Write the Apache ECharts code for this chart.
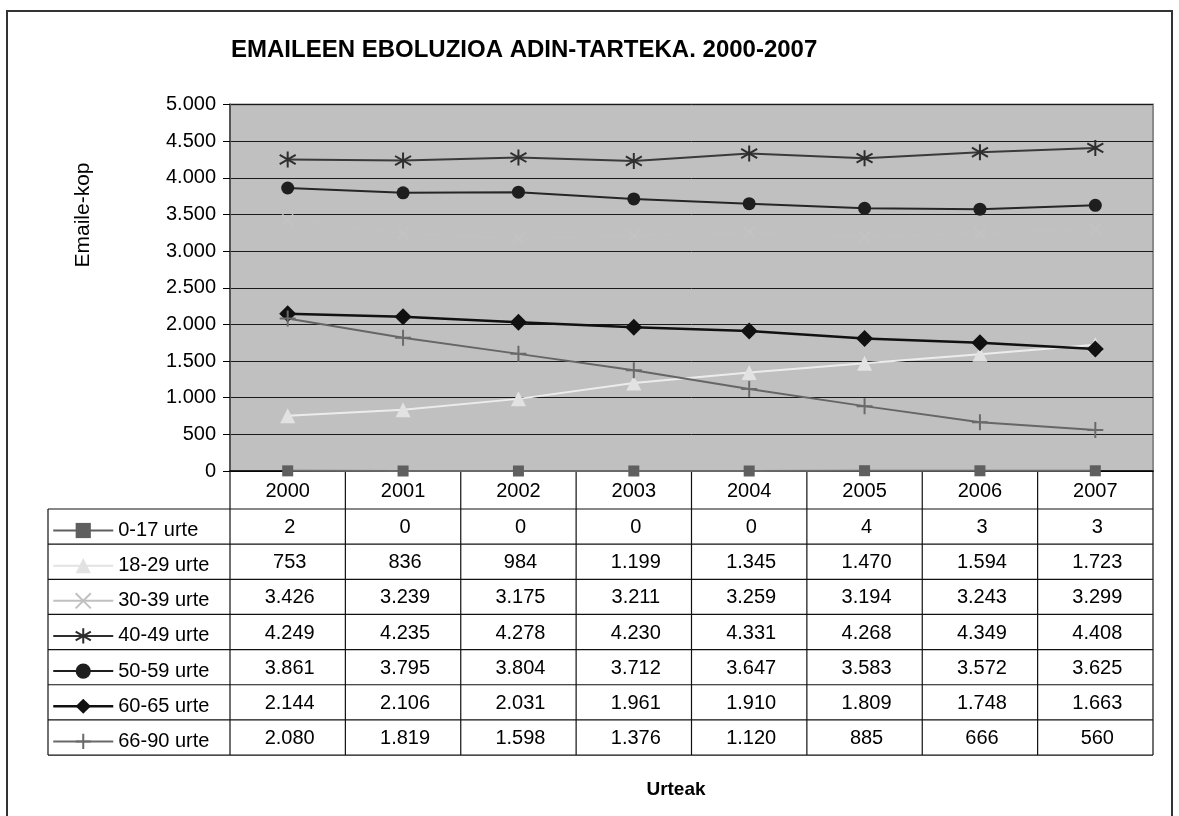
<!DOCTYPE html>
<html><head><meta charset="utf-8">
<script src="https://cdn.jsdelivr.net/npm/echarts@6/dist/echarts.min.js"></script>
<style>html,body{margin:0;padding:0;background:#fff}#c{width:1179px;height:816px}</style>
</head><body><div id="c"></div>
<script>
// ---- data ----
const years = ['2000','2001','2002','2003','2004','2005','2006','2007'];
const seriesNames = ['0-17 urte','18-29 urte','30-39 urte','40-49 urte','50-59 urte','60-65 urte','66-90 urte'];
const v0_17  = [2, 0, 0, 0, 0, 4, 3, 3];
const v18_29 = [753, 836, 984, 1199, 1345, 1470, 1594, 1723];
const v30_39 = [3426, 3239, 3175, 3211, 3259, 3194, 3243, 3299];
const v40_49 = [4249, 4235, 4278, 4230, 4331, 4268, 4349, 4408];
const v50_59 = [3861, 3795, 3804, 3712, 3647, 3583, 3572, 3625];
const v60_65 = [2144, 2106, 2031, 1961, 1910, 1809, 1748, 1663];
const v66_90 = [2080, 1819, 1598, 1376, 1120, 885, 666, 560];
const allValues = [v0_17, v18_29, v30_39, v40_49, v50_59, v60_65, v66_90];
const titleText = 'EMAILEEN EBOLUZIOA ADIN-TARTEKA. 2000-2007';
const yTitle = 'Emaile-kop';
const xTitle = 'Urteak';

// ---- styles ----
const FONT = '"Liberation Sans", Arial, Helvetica, sans-serif';
const fmt = n => String(n).replace(/\B(?=(\d{3})+(?!\d))/g, '.');
const ASTER = 'path://M7,0L7,14M0,3L14,11M0,11L14,3';
const PLUS = 'path://M7,0L7,14M0,7L14,7';
const CROSS = 'path://M0,0L10,10M0,10L10,0';
const sty = [
  {symbol:'rect', size:11, color:'#5f5f5f', line:'#6a6a6a', lw:2, stroke:false},
  {symbol:'triangle', size:15, color:'#e2e2e2', line:'#ececec', lw:2, stroke:false},
  {symbol:CROSS, size:11, color:'#c3c3c3', line:'#c1c1c1', lw:2, stroke:true},
  {symbol:ASTER, size:16, color:'#2e2e2e', line:'#3a3a3a', lw:2, stroke:true},
  {symbol:'circle', size:13, color:'#1e1e1e', line:'#262626', lw:2, stroke:false},
  {symbol:'diamond', size:17, color:'#111', line:'#111', lw:2.5, stroke:false},
  {symbol:PLUS, size:16, color:'#6a6a6a', line:'#666', lw:2, stroke:true}
];
const legendColor = ['#5f5f5f', '#e2e2e2', '#c0c0c0', '#2e2e2e', '#1e1e1e', '#111', '#6a6a6a'];

const chart = echarts.init(document.getElementById('c'), null, {renderer:'canvas'});
const GRID = {left:230, top:104.5, right:26, bottom:345};

const series = seriesNames.map((name, i) => ({
  name, type:'line', data: allValues[i],
  symbol: sty[i].symbol, symbolSize: sty[i].size,
  showAllSymbol: true,
  itemStyle: {color: sty[i].color, borderColor: sty[i].color, borderWidth: sty[i].stroke ? 2 : 0},
  lineStyle: {color: sty[i].line, width: sty[i].lw},
  emphasis: {disabled: true},
  z: 3
}));

const legendData = seriesNames.map((name, i) => ({
  name,
  itemStyle: {color: legendColor[i], borderColor: legendColor[i], borderWidth: sty[i].stroke ? 2 : 0},
  lineStyle: {color: legendColor[i], width: sty[i].lw}
}));

chart.setOption({
  animation: false,
  backgroundColor: '#fff',
  grid: Object.assign({show:true, backgroundColor:'#c0c0c0', borderColor:'#8a8a8a', borderWidth:2}, GRID),
  xAxis: {
    type:'category', data: years, boundaryGap: true,
    axisLine: {lineStyle:{color:'#000', width:1.5}},
    axisTick: {show:false},
    axisLabel: {show:false},
    splitLine: {show:false}
  },
  yAxis: {
    type:'value', min:0, max:5000, interval:500,
    axisLine: {show:true, lineStyle:{color:'#555', width:2}},
    axisTick: {show:true, length:7, lineStyle:{color:'#000', width:1}},
    axisLabel: {formatter: v => fmt(v), fontSize:20, color:'#000', fontFamily:FONT, margin:14},
    splitLine: {lineStyle:{color:'#1a1a1a', width:1}}
  },
  legend: {
    orient:'vertical', left:52, top:519.5, padding:[0,0,0,0],
    itemWidth:60, itemHeight:19, itemGap:13.15,
    selectedMode:false,
    textStyle:{fontSize:20, lineHeight:22, color:'#000', fontFamily:FONT},
    data: legendData
  },
  series
});

// ---- table + texts ----
const c0 = chart.convertToPixel({xAxisIndex:0}, 0);
const c1 = chart.convertToPixel({xAxisIndex:0}, 1);
const band = c1 - c0;
const y0 = chart.convertToPixel({yAxisIndex:0}, 0);
const bounds = years.map((_, i) => chart.convertToPixel({xAxisIndex:0}, i) - band/2);
bounds.push(bounds[bounds.length-1] + band);
const tableLeft = 48;
const rowH0 = 38, rowH = 35.15;
const rowTop = y0 + rowH0;
const tableBottom = rowTop + rowH * seriesNames.length;
const LC = '#111';
const g = [];
bounds.forEach(x => g.push({type:'line', shape:{x1:x, y1:y0, x2:x, y2:tableBottom}, style:{stroke:LC, lineWidth:1.2}, silent:true}));
g.push({type:'line', shape:{x1:tableLeft, y1:rowTop, x2:tableLeft, y2:tableBottom}, style:{stroke:LC, lineWidth:1.2}, silent:true});
for (let r = 0; r <= seriesNames.length; r++) {
  const y = rowTop + r * rowH;
  g.push({type:'line', shape:{x1:tableLeft, y1:y, x2:bounds[bounds.length-1], y2:y}, style:{stroke:LC, lineWidth:1.2}, silent:true});
}
years.forEach((yr, i) => g.push({type:'text', x: bounds[i] + band/2, y: y0 + rowH0/2 + 1,
  style:{text: yr, fontSize:20, fontFamily:FONT, fill:'#000', align:'center', verticalAlign:'middle'}, silent:true}));
allValues.forEach((arr, r) => arr.forEach((v, i) => g.push({type:'text', x: bounds[i] + band/2 + 2, y: rowTop + r*rowH + rowH/2 + 1,
  style:{text: fmt(v), fontSize:20, fontFamily:FONT, fill:'#000', align:'center', verticalAlign:'middle'}, silent:true})));
g.push({type:'text', x:231, y:50, style:{text:titleText, fontSize:24, fontWeight:'bold', fontFamily:FONT, fill:'#000', align:'left', verticalAlign:'middle'}, silent:true});
g.push({type:'text', x:83, y:215, rotation:Math.PI/2, style:{text:yTitle, fontSize:21, fontFamily:FONT, fill:'#000', align:'center', verticalAlign:'middle'}, silent:true});
g.push({type:'text', x:676, y:790, style:{text:xTitle, fontSize:19, fontWeight:'bold', fontFamily:FONT, fill:'#000', align:'center', verticalAlign:'middle'}, silent:true});
g.push({type:'polyline', shape:{points:[[7,830],[7,11],[1172,11],[1172,830]]}, style:{stroke:'#333', lineWidth:2, fill:null}, silent:true});

chart.setOption({graphic: {elements: g}});
</script>
</body></html>
